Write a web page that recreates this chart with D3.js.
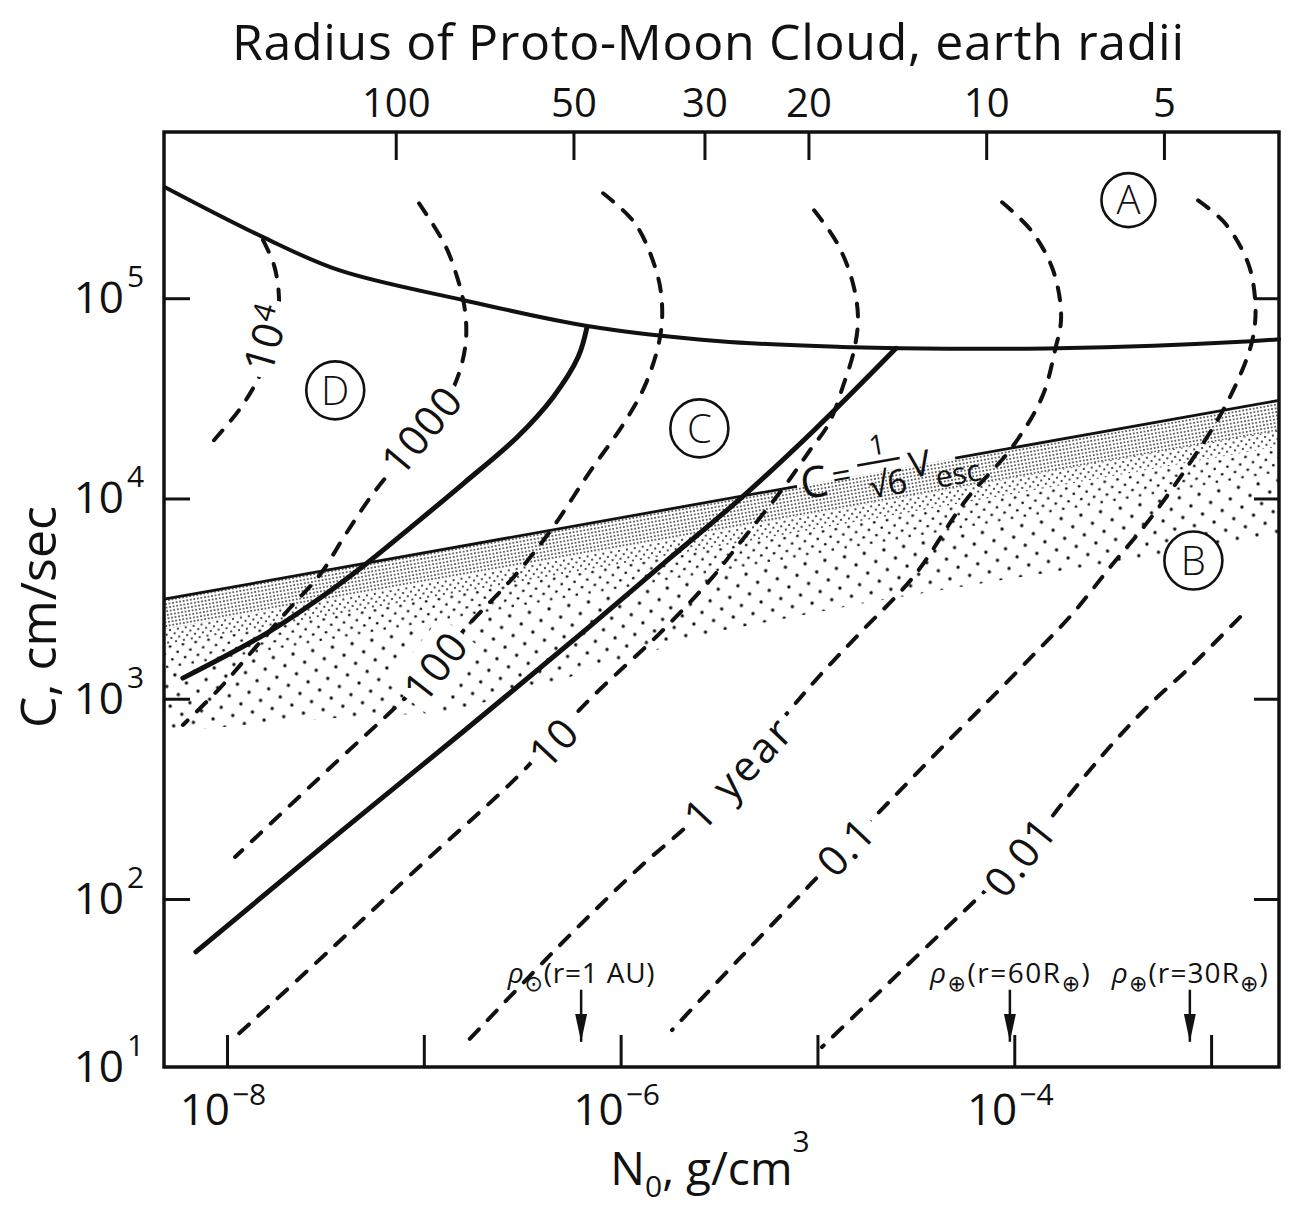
<!DOCTYPE html>
<html>
<head>
<meta charset="utf-8">
<script src="https://cdn.jsdelivr.net/npm/d3@7"></script>
<style>
  body { margin: 0; background: #fff; }
  svg { display: block; font-family: "Open Sans", "DejaVu Sans", sans-serif; }
</style>
</head>
<body>
<div id="chart"></div>
<script>
// all curves are [log10 N0 (g/cm3), log10 C (cm/sec)]
const topBoundary = [[-8.315, 5.554], [-7.817, 5.305], [-7.431, 5.140], [-6.796, 4.990], [-6.161, 4.860],
  [-5.495, 4.785], [-4.824, 4.755], [-4.580, 4.750], [-3.782, 4.750], [-2.797, 4.785], [-2.655, 4.795]];
const boundaryDC = [[-6.171, 4.855], [-6.216, 4.706], [-6.343, 4.506], [-6.526, 4.306], [-6.796, 4.077],
  [-7.040, 3.877], [-7.289, 3.677], [-7.527, 3.503], [-7.797, 3.328], [-8.224, 3.103]];
const boundaryCB = [[-4.601, 4.750], [-5.017, 4.341], [-5.383, 4.007], [-5.774, 3.682], [-6.161, 3.358],
  [-6.796, 2.839], [-7.431, 2.329], [-8.158, 1.685]];

// C = V_esc / sqrt(6), straight on log-log axes, with a gap for its label
const escapeLine = [[-8.32, 3.497], [-2.655, 4.490]];
const escapeGap = [-5.104, -4.30];
// lower edge of the stippled region B
const stippleLower = [[-8.32, 2.834], [-7.477, 2.903], [-6.867, 2.933], [-6.308, 3.093], [-5.520, 3.333],
  [-4.733, 3.483], [-4.072, 3.592], [-3.361, 3.702], [-2.655, 3.817]];

// dashed contours of time scale
const contour1e4 = [[-7.817, 5.290], [-7.761, 5.165], [-7.736, 5.005], [-7.751, 4.840], [-7.792, 4.701],
  [-7.853, 4.576], [-7.939, 4.441], [-8.066, 4.291]];
const contour1000 = [[-7.024, 5.474], [-6.892, 5.265], [-6.826, 5.090], [-6.791, 4.940], [-6.786, 4.790],
  [-6.816, 4.641], [-6.882, 4.491], [-6.994, 4.341], [-7.121, 4.191], [-7.263, 4.017], [-7.400, 3.817],
  [-7.522, 3.627], [-7.680, 3.453], [-7.858, 3.253], [-8.036, 3.053], [-8.224, 2.869]];
const contour100 = [[-6.089, 5.524], [-5.927, 5.374], [-5.820, 5.140], [-5.790, 4.975], [-5.800, 4.805],
  [-5.871, 4.576], [-5.983, 4.376], [-6.161, 4.127], [-6.343, 3.857], [-6.526, 3.627], [-6.796, 3.343],
  [-6.943, 3.158], [-7.106, 2.993], [-7.472, 2.659], [-7.959, 2.210]];
const contour10 = [[-5.017, 5.439], [-4.900, 5.275], [-4.824, 5.090], [-4.794, 4.905], [-4.814, 4.740],
  [-4.865, 4.576], [-4.941, 4.376], [-5.038, 4.241], [-5.170, 4.057], [-5.383, 3.792], [-5.546, 3.592],
  [-5.800, 3.328], [-6.161, 2.993], [-6.526, 2.609], [-7.019, 2.165], [-7.477, 1.696], [-7.975, 1.161]];
const contour1 = [[-4.062, 5.479], [-3.915, 5.339], [-3.803, 5.140], [-3.762, 4.905], [-3.793, 4.740],
  [-3.859, 4.506], [-4.011, 4.256], [-4.245, 3.992], [-4.514, 3.607], [-4.784, 3.328], [-4.977, 3.128],
  [-5.154, 2.928], [-5.403, 2.634], [-5.647, 2.379], [-5.901, 2.160], [-6.308, 1.726], [-6.806, 1.119]];
const contour01 = [[-3.066, 5.489], [-2.929, 5.374], [-2.812, 5.175], [-2.776, 4.990], [-2.781, 4.840],
  [-2.816, 4.706], [-2.939, 4.441], [-3.122, 4.156], [-3.315, 3.892], [-3.513, 3.657], [-3.701, 3.428],
  [-3.894, 3.228], [-4.128, 2.993], [-4.341, 2.784], [-4.514, 2.609], [-4.667, 2.454], [-4.855, 2.260],
  [-5.048, 2.060], [-5.393, 1.649], [-5.739, 1.220]];
const contour001 = [[-2.853, 3.408], [-3.112, 3.153], [-3.305, 2.978], [-3.493, 2.784], [-3.742, 2.494],
  [-3.971, 2.210], [-4.159, 2.030], [-4.580, 1.565], [-4.977, 1.119]];

const contours = [contour1e4, contour1000, contour100, contour10, contour1, contour01, contour001];
const contourLabels = [["10", "4"], ["1000"], ["100"], ["10"], ["1 year"], ["0.1"], ["0.01"]];
const contourLabelAt = [[-7.80, 4.80], [-7.01, 4.34], [-6.94, 3.16], [-6.34, 2.78], [-5.40, 2.63],
  [-4.855, 2.26], [-3.97, 2.21]];

// circled region letters
const regionLetters = ["A", "B", "C", "D"];
const regionAt = [[-3.42, 5.49], [-3.09, 3.69], [-5.60, 4.35], [-7.45, 4.54]];

// reference densities marked by arrows along the bottom
const markerRho = [6.3e-7, 9.5e-5, 7.8e-4];
const markerText = [
  [["ρ", 0], ["⊙", 1], ["(r=1 AU)", 0]],
  [["ρ", 0], ["⊕", 1], ["(r=60R", 0], ["⊕", 1], [")", 0]],
  [["ρ", 0], ["⊕", 1], ["(r=30R", 0], ["⊕", 1], [")", 0]]
];
const markerTextWidth = [147, 160, 156];

// axes
const xTicks = [1e-8, 1e-7, 1e-6, 1e-5, 1e-4, 1e-3];
const xLabelExp = [-8, -6, -4];
const yTicks = [1e2, 1e3, 1e4, 1e5];
const yLabelExp = [1, 2, 3, 4, 5];
const radiusTicks = [100, 50, 30, 20, 10, 5];
const rhoAtRadius100 = 7.2e-8;   // cloud radius scales as N0^(-1/3)

const W = 1291, H = 1213;
const plotL = 164, plotR = 1279, plotT = 132, plotB = 1067;

const x = d3.scaleLog().domain([10 ** -8.32, 10 ** -2.655]).range([plotL, plotR]);
// the bottom decade of the original is drawn shorter than the others
const y = d3.scaleLog().domain([10, 100, 10 ** 5.83]).range([plotB, 899, plotT]);
const r = d3.scaleLog().domain([100, 10]).range([x(rhoAtRadius100), x(rhoAtRadius100 * 1000)]);

const px = d => [x(10 ** d[0]), y(10 ** d[1])];
const line = d3.line().x(d => px(d)[0]).y(d => px(d)[1]).curve(d3.curveCatmullRom.alpha(0.5));

const svg = d3.select("#chart").append("svg")
    .attr("width", W)
    .attr("height", H)
    .attr("viewBox", [0, 0, W, H]);

svg.append("rect").attr("width", W).attr("height", H).attr("fill", "#fff");

const defs = svg.append("defs");
function dots(id, size, rad, stagger) {
  const p = defs.append("pattern")
      .attr("id", id)
      .attr("patternUnits", "userSpaceOnUse")
      .attr("width", size).attr("height", size)
      .attr("patternTransform", "rotate(-10)");
  p.append("circle").attr("cx", size / 4).attr("cy", size / 4).attr("r", rad).attr("fill", "#111");
  if (stagger) p.append("circle").attr("cx", size * 3 / 4).attr("cy", size * 3 / 4).attr("r", rad).attr("fill", "#111");
}
dots("fine", 3.6, 0.8, false);
dots("fine2", 8, 1.0, true);
dots("medium", 13, 1.35, true);
dots("coarse", 20, 1.7, true);

defs.append("marker")
    .attr("id", "head")
    .attr("viewBox", "0 0 28 12")
    .attr("refX", 28).attr("refY", 6)
    .attr("markerWidth", 28).attr("markerHeight", 12)
    .attr("markerUnits", "userSpaceOnUse")
    .attr("orient", "auto")
  .append("path").attr("d", "M0,0L28,6L0,12Z").attr("fill", "#111");

// stippled region B, dots thin out away from the escape line
const e0 = px(escapeLine[0]), e1 = px(escapeLine[1]);
const region = [e0, e1, ...stippleLower.slice().reverse().map(px)];
defs.append("clipPath").attr("id", "regionB")
  .append("path").attr("d", "M" + region.join("L") + "Z");

const band = (d1, d2) => "M" + [[e0[0], e0[1] + d1], [e1[0], e1[1] + d1], [e1[0], e1[1] + d2], [e0[0], e0[1] + d2]].join("L") + "Z";
const stipple = svg.append("g").attr("clip-path", "url(#regionB)");
stipple.append("path").attr("d", band(0, 30)).attr("fill", "url(#fine)");
stipple.append("path").attr("d", band(30, 46)).attr("fill", "url(#fine2)");
stipple.append("path").attr("d", band(46, 72)).attr("fill", "url(#medium)");
stipple.append("path").attr("d", band(72, 300)).attr("fill", "url(#coarse)");

// escape-speed line with label gap
const escC = n => escapeLine[0][1] + (n - escapeLine[0][0]) * (escapeLine[1][1] - escapeLine[0][1]) / (escapeLine[1][0] - escapeLine[0][0]);
const escSegs = [[escapeLine[0][0], escapeGap[0]], [escapeGap[1], escapeLine[1][0]]];
svg.append("g")
  .selectAll("path")
  .data(escSegs)
  .join("path")
    .attr("d", s => d3.line()(s.map(n => px([n, escC(n)]))))
    .attr("fill", "none")
    .attr("stroke", "#111")
    .attr("stroke-width", 2.8);

const escLabel = svg.append("g")
    .attr("transform", `translate(${px([escapeGap[0], escC(escapeGap[0])])}) rotate(-10)`)
    .attr("fill", "#111");
escLabel.append("text").attr("x", 4).attr("y", 14).attr("font-size", 43).text("C");
escLabel.append("text").attr("x", 36).attr("y", 9).attr("font-size", 34).text("=");
escLabel.append("line").attr("x1", 63).attr("x2", 106).attr("y1", -10).attr("y2", -10).attr("stroke", "#111").attr("stroke-width", 2.5);
escLabel.append("text").attr("x", 86).attr("y", -17).attr("font-size", 28).attr("text-anchor", "middle").text("1");
escLabel.append("text").attr("x", 90).attr("y", 25).attr("font-size", 34).attr("text-anchor", "middle").text("√6");
escLabel.append("text").attr("x", 114).attr("y", 12).attr("font-size", 36).text("V");
escLabel.append("text").attr("x", 138).attr("y", 26).attr("font-size", 30).text("esc");

// solid boundaries
svg.append("g")
  .selectAll("path")
  .data([topBoundary, boundaryDC, boundaryCB])
  .join("path")
    .attr("d", line)
    .attr("fill", "none")
    .attr("stroke", "#111")
    .attr("stroke-width", (d, i) => i === 0 ? 4 : 5)
    .attr("stroke-linecap", "round");

// dashed time-scale contours
svg.append("g")
  .selectAll("path")
  .data(contours)
  .join("path")
    .attr("d", line)
    .attr("fill", "none")
    .attr("stroke", "#111")
    .attr("stroke-width", 4)
    .attr("stroke-dasharray", "13 13")
    .attr("stroke-linecap", "round");

function labelAngle(pts, at) {
  const P = pts.map(px), q = px(at);
  let best = 0, bd = Infinity;
  for (let i = 0; i < P.length - 1; i++) {
    const [ax, ay] = P[i], [bx, by] = P[i + 1];
    const t = Math.max(0, Math.min(1, ((q[0] - ax) * (bx - ax) + (q[1] - ay) * (by - ay)) / ((bx - ax) ** 2 + (by - ay) ** 2)));
    const d = (ax + t * (bx - ax) - q[0]) ** 2 + (ay + t * (by - ay) - q[1]) ** 2;
    if (d < bd) { bd = d; best = i; }
  }
  let a = Math.atan2(P[best + 1][1] - P[best][1], P[best + 1][0] - P[best][0]) * 180 / Math.PI;
  if (a > 90) a -= 180;
  if (a < -90) a += 180;
  return a;
}

contourLabels.forEach((lab, i) => {
  const g = svg.append("g")
      .attr("transform", `translate(${px(contourLabelAt[i])}) rotate(${labelAngle(contours[i], contourLabelAt[i])})`);
  const t = g.append("text")
      .attr("text-anchor", "middle")
      .attr("y", 15)
      .attr("font-size", 42)
      .attr("letter-spacing", lab[0] === "1 year" ? 3 : 1)
      .attr("fill", "#111")
      .text(lab[0]);
  if (lab[1]) t.append("tspan").attr("font-size", 30).attr("dy", -14).text(lab[1]);
  const b = t.node().getBBox();
  g.insert("rect", "text")
      .attr("x", b.x - 5).attr("y", b.y + 3)
      .attr("width", b.width + 10).attr("height", b.height - 6)
      .attr("fill", "#fff");
});

// circled letters
const letters = svg.append("g")
  .selectAll("g")
  .data(regionLetters)
  .join("g")
    .attr("transform", (d, i) => `translate(${px(regionAt[i])})`);
letters.append("circle")
    .attr("r", (d, i) => i === 0 ? 27 : 29)
    .attr("fill", "#fff")
    .attr("stroke", "#111")
    .attr("stroke-width", 2.6);
letters.append("text")
    .attr("text-anchor", "middle")
    .attr("dy", "0.36em")
    .attr("font-size", 40)
    .attr("font-weight", 300)
    .attr("fill", "#111")
    .text(d => d);

// reference density arrows
const arrows = svg.append("g")
  .selectAll("g")
  .data(markerRho)
  .join("g");
arrows.append("line")
    .attr("x1", d => x(d)).attr("x2", d => x(d))
    .attr("y1", y(10 ** 1.46)).attr("y2", y(10 ** 1.15))
    .attr("stroke", "#111")
    .attr("stroke-width", 2.5)
    .attr("marker-end", "url(#head)");
arrows.each(function (d, i) {
  const t = d3.select(this).append("text")
      .attr("x", x(d)).attr("y", y(10 ** 1.5))
      .attr("text-anchor", "middle")
      .attr("font-size", 28)
      .attr("fill", "#111")
      .attr("textLength", markerTextWidth[i])
      .attr("lengthAdjust", "spacing");
  let shift = 0;
  for (const [s, sub] of markerText[i]) {
    const want = sub ? 8 : 0;
    t.append("tspan")
        .attr("dy", want - shift)
        .attr("font-size", sub ? 22 : 28)
        .attr("font-style", s === "ρ" ? "italic" : null)
        .text(s);
    shift = want;
  }
});

// axes: ticks only, the frame is drawn separately
function styleAxis(g) {
  g.select(".domain").remove();
  g.selectAll(".tick line").attr("stroke", "#111").attr("stroke-width", 3);
  g.attr("font-family", null);
}
svg.append("g").attr("transform", `translate(0,${plotB})`)
    .call(d3.axisBottom(x).tickValues(xTicks).tickSize(-32).tickFormat(""))
    .call(styleAxis);
svg.append("g").attr("transform", `translate(${plotL},0)`)
    .call(d3.axisLeft(y).tickValues(yTicks).tickSize(-26).tickFormat(""))
    .call(styleAxis);
svg.append("g").attr("transform", `translate(${plotR},0)`)
    .call(d3.axisRight(y).tickValues(yTicks).tickSize(-25).tickFormat(""))
    .call(styleAxis);
svg.append("g").attr("transform", `translate(0,${plotT})`)
    .call(d3.axisTop(r).tickValues(radiusTicks).tickSize(-28).tickPadding(15).tickFormat(d3.format("d")))
    .call(styleAxis)
    .call(g => g.selectAll("text").attr("font-size", 40).attr("fill", "#111"));

svg.append("rect")
    .attr("x", plotL).attr("y", plotT)
    .attr("width", plotR - plotL).attr("height", plotB - plotT)
    .attr("fill", "none")
    .attr("stroke", "#111")
    .attr("stroke-width", 3.5);

// power-of-ten tick labels
const yl = svg.append("g").attr("fill", "#111");
yLabelExp.forEach(e => {
  const yy = y(10 ** e);
  yl.append("text").attr("x", 124).attr("y", yy + 15).attr("text-anchor", "end").attr("font-size", 44).text("10");
  yl.append("text").attr("x", 127).attr("y", yy - 11).attr("font-size", 30).text(e);
});
xLabelExp.forEach(e => {
  const xx = x(10 ** e);
  yl.append("text").attr("x", xx + 3).attr("y", 1125).attr("text-anchor", "end").attr("font-size", 44).text("10");
  yl.append("text").attr("x", xx + 5).attr("y", 1105).attr("font-size", 30).text("−" + (-e));
});

// titles
svg.append("text")
    .attr("x", 232).attr("y", 60)
    .attr("font-size", 50)
    .attr("textLength", 952)
    .attr("lengthAdjust", "spacing")
    .attr("fill", "#111")
    .text("Radius of Proto-Moon Cloud, earth radii");

const xt = svg.append("text")
    .attr("x", 710).attr("y", 1185)
    .attr("text-anchor", "middle")
    .attr("font-size", 46)
    .attr("fill", "#111");
xt.append("tspan").text("N");
xt.append("tspan").attr("font-size", 30).attr("dy", 12).text("0");
xt.append("tspan").attr("dy", -12).text(", g/cm");
xt.append("tspan").attr("font-size", 30).attr("dy", -33).text("3");

svg.append("text")
    .attr("transform", "translate(56,617) rotate(-90)")
    .attr("text-anchor", "middle")
    .attr("font-size", 50)
    .attr("fill", "#111")
    .text("C, cm/sec");
</script>
</body>
</html>
